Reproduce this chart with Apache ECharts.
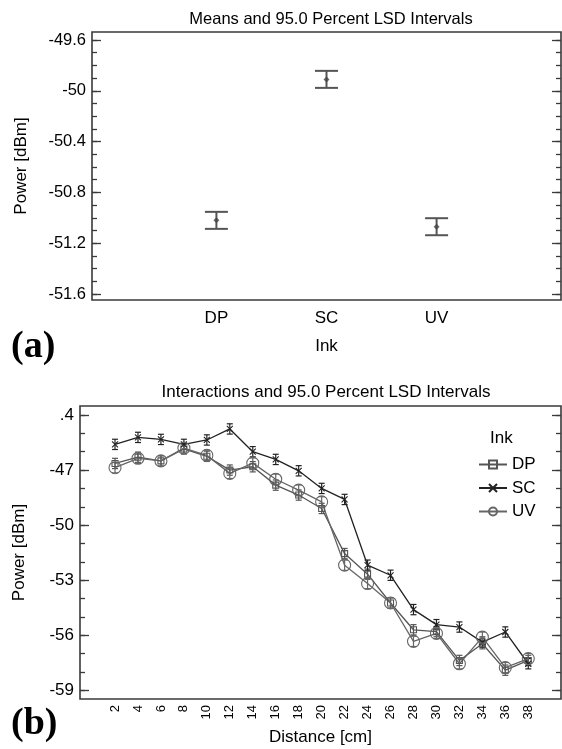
<!DOCTYPE html>
<html>
<head>
<meta charset="utf-8">
<script src="https://cdn.jsdelivr.net/npm/echarts@6/dist/echarts.min.js"></script>
<style>
  html, body { margin: 0; padding: 0; background: #fff; }
  #chart { width: 562px; height: 749px; }
</style>
</head>
<body>
<div id="chart"></div>
<script>
// ==================== DATA ====================
// (a) means per ink
const inks = ['DP', 'SC', 'UV'];
const inkMeans = [-51.02, -49.91, -51.07];
const inkLsdHalf = 0.067;
const meansYTicks = [-51.6, -51.2, -50.8, -50.4, -50, -49.6];
const meansYMinor = [-51.6, -51.5, -51.4, -51.3, -51.2, -51.1, -51.0, -50.9, -50.8, -50.7, -50.6,
  -50.5, -50.4, -50.3, -50.2, -50.1, -50.0, -49.9, -49.8, -49.7, -49.6];

// (b) interactions ink x distance
const distances = [2, 4, 6, 8, 10, 12, 14, 16, 18, 20, 22, 24, 26, 28, 30, 32, 34, 36, 38];
const dpPower = [-46.64, -46.3, -46.5, -45.85, -46.25, -47.0, -46.82, -47.82, -48.36, -49.09,
  -51.55, -52.67, -54.24, -55.7, -55.8, -57.37, -56.46, -57.9, -57.37];
const scPower = [-45.6, -45.22, -45.33, -45.6, -45.36, -44.76, -46.0, -46.42, -47.04, -48.0,
  -48.6, -52.18, -52.73, -54.6, -55.42, -55.55, -56.37, -55.82, -57.55];
const uvPower = [-46.87, -46.36, -46.5, -45.8, -46.2, -47.18, -46.62, -47.5, -48.09, -48.73,
  -52.18, -53.18, -54.24, -56.33, -55.9, -57.55, -56.1, -57.76, -57.27];
const interLsdHalf = 0.28;
const interYTicks = [-59, -56, -53, -50, -47, -44];
const interYMinor = [-59, -58, -57, -56, -55, -54, -53, -52, -51, -50, -49, -48, -47, -46, -45, -44];

// ==================== STYLE ====================
const FONT = '"Liberation Sans", Arial, sans-serif';
const txt = '#000';
const frame = '#3a3a3a';
const inkColors = { DP: '#555', SC: '#222', UV: '#666' };

// error bar drawer (vertical line + caps)
function errorBar(half, capW, color, lw) {
  return function (params, api) {
    const x = api.value(0), y = api.value(1);
    const lo = api.coord([x, y - half]);
    const hi = api.coord([x, y + half]);
    const st = { stroke: color, lineWidth: lw };
    return {
      type: 'group',
      children: [
        { type: 'line', shape: { x1: lo[0], y1: lo[1], x2: hi[0], y2: hi[1] }, style: st },
        { type: 'line', shape: { x1: lo[0] - capW, y1: lo[1], x2: lo[0] + capW, y2: lo[1] }, style: st },
        { type: 'line', shape: { x1: hi[0] - capW, y1: hi[1], x2: hi[0] + capW, y2: hi[1] }, style: st }
      ]
    };
  };
}

// 4 y axes per grid: left majors (labels), left minors, right majors, right minors
function yAxes(gridIndex, min, max, majors, minors, labelSize, labelFmt, name, nameGap) {
  const base = { type: 'value', gridIndex, min, max, axisLine: { show: false, onZero: false }, splitLine: { show: false } };
  const tickStyle = { color: frame, width: 1.3 };
  return [
    Object.assign({}, base, {
      position: 'left',
      name, nameLocation: 'middle', nameRotate: 90, nameGap,
      nameTextStyle: { fontFamily: FONT, fontSize: 17, color: txt },
      axisTick: { show: true, inside: true, length: 9, customValues: majors, lineStyle: tickStyle },
      axisLabel: { show: true, customValues: majors, margin: 6, fontFamily: FONT, fontSize: labelSize, color: txt, formatter: labelFmt }
    }),
    Object.assign({}, base, {
      position: 'left',
      axisTick: { show: true, inside: true, length: 5, customValues: minors, lineStyle: tickStyle },
      axisLabel: { show: false }
    }),
    Object.assign({}, base, {
      position: 'right',
      axisTick: { show: true, inside: true, length: 9, customValues: majors, lineStyle: tickStyle },
      axisLabel: { show: false }
    }),
    Object.assign({}, base, {
      position: 'right',
      axisTick: { show: true, inside: true, length: 5, customValues: minors, lineStyle: tickStyle },
      axisLabel: { show: false }
    })
  ];
}

const chart = echarts.init(document.getElementById('chart'), null, { renderer: 'canvas' });

const lineSeries = [
  { name: 'DP', data: dpPower, symbol: 'rect', symbolSize: 6 },
  { name: 'SC', data: scPower, symbol: 'path://M0,0L10,10M10,0L0,10', symbolSize: 6 },
  { name: 'UV', data: uvPower, symbol: 'circle', symbolSize: 12 }
];

const series = [
  // (a)
  {
    name: 'LSD', type: 'custom', xAxisIndex: 0, yAxisIndex: 0,
    renderItem: errorBar(inkLsdHalf, 11.5, '#555', 2),
    encode: { x: 0, y: 1 },
    data: inkMeans.map((v, i) => [i + 1, v])
  },
  {
    name: 'Mean', type: 'scatter', xAxisIndex: 0, yAxisIndex: 0,
    symbol: 'diamond', symbolSize: 6, itemStyle: { color: '#444' },
    data: inkMeans.map((v, i) => [i + 1, v])
  }
];

lineSeries.forEach(s => {
  const c = inkColors[s.name];
  series.push({
    name: s.name + ' LSD', type: 'custom', xAxisIndex: 1, yAxisIndex: 4,
    renderItem: errorBar(interLsdHalf, 3, c, 1.2),
    encode: { x: 0, y: 1 },
    data: distances.map((d, i) => [d, s.data[i]])
  });
  series.push({
    name: s.name, type: 'line', xAxisIndex: 1, yAxisIndex: 4,
    data: distances.map((d, i) => [d, s.data[i]]),
    symbol: s.symbol, symbolSize: s.symbolSize, showSymbol: true,
    lineStyle: { color: c, width: 1.3 },
    itemStyle: { color: 'rgba(0,0,0,0)', borderColor: c, borderWidth: 1.1 },
    emphasis: { disabled: true }
  });
});

chart.setOption({
  backgroundColor: '#fff',
  animation: false,
  textStyle: { fontFamily: FONT },
  title: [
    { text: 'Means and 95.0 Percent LSD Intervals', left: 326, top: 6, textAlign: 'center',
      textStyle: { fontFamily: FONT, fontSize: 16.5, fontWeight: 'normal', color: txt } },
    { text: 'Interactions and 95.0 Percent LSD Intervals', left: 321, top: 379, textAlign: 'center',
      textStyle: { fontFamily: FONT, fontSize: 17, fontWeight: 'normal', color: txt } },
    { text: 'Ink', left: 485, top: 425,
      textStyle: { fontFamily: FONT, fontSize: 17, fontWeight: 'normal', color: txt } },
    { text: '(a)', left: 6, top: 323,
      textStyle: { fontFamily: '"Liberation Serif", "Times New Roman", serif', fontSize: 38, fontWeight: 'bold', color: '#000' } },
    { text: '(b)', left: 6, top: 700,
      textStyle: { fontFamily: '"Liberation Serif", "Times New Roman", serif', fontSize: 38, fontWeight: 'bold', color: '#000' } }
  ],
  legend: {
    data: inks, orient: 'vertical', left: 473, top: 451,
    itemWidth: 28, itemHeight: 10, itemGap: 6.5,
    textStyle: { fontFamily: FONT, fontSize: 17, color: txt }
  },
  grid: [
    { left: 92, right: 1, top: 32, height: 268, show: true, borderColor: frame, borderWidth: 1.6, backgroundColor: '#fff' },
    { left: 80, right: 1, top: 406, height: 293, show: true, borderColor: frame, borderWidth: 1.6, backgroundColor: '#fff' }
  ],
  xAxis: [
    {
      type: 'value', gridIndex: 0, min: -0.13, max: 4.13,
      axisLine: { show: false, onZero: false }, axisTick: { show: false }, splitLine: { show: false },
      axisLabel: { customValues: [1, 2, 3], margin: 10, fontFamily: FONT, fontSize: 17, color: txt,
        formatter: v => inks[Math.round(v) - 1] },
      name: 'Ink', nameLocation: 'middle', nameGap: 38,
      nameTextStyle: { fontFamily: FONT, fontSize: 17, color: txt }
    },
    {
      type: 'value', gridIndex: 1, min: -1.05, max: 40.85,
      axisLine: { show: false, onZero: false }, axisTick: { show: false }, splitLine: { show: false },
      axisLabel: { customValues: distances, rotate: 90, margin: 6, fontFamily: FONT, fontSize: 13, color: txt },
      name: 'Distance [cm]', nameLocation: 'middle', nameGap: 30,
      nameTextStyle: { fontFamily: FONT, fontSize: 17, color: txt }
    }
  ],
  yAxis: [].concat(
    yAxes(0, -51.647, -49.537, meansYTicks, meansYMinor, 16.5, v => String(+v.toFixed(1)), 'Power [dBm]', 62),
    yAxes(1, -59.47, -43.51, interYTicks, interYMinor, 17, v => (v === -44 ? '.4' : String(v)), 'Power [dBm]', 52)
  ),
  series
});
</script>
</body>
</html>
